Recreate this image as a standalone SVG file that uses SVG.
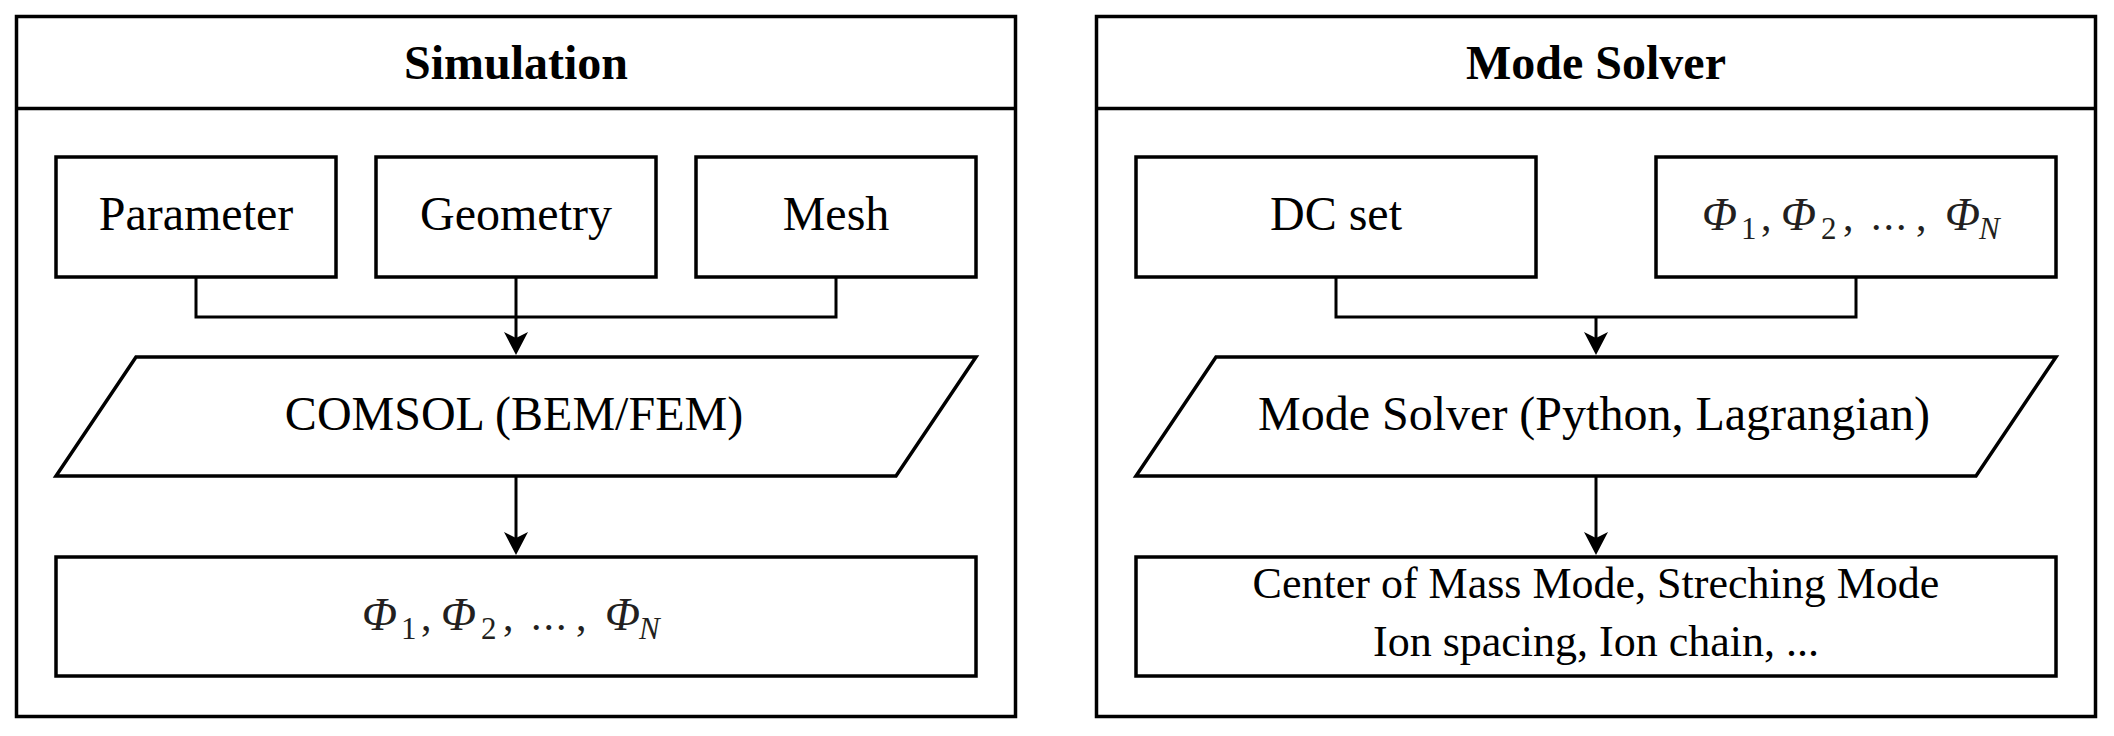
<svg xmlns="http://www.w3.org/2000/svg" width="2114" height="736" viewBox="0 0 2114 736">
<defs>
<style>
.panel{fill:#fff;stroke:#000;stroke-width:3.5}
.box{fill:#fff;stroke:#000;stroke-width:3.5}
.conn{fill:none;stroke:#000;stroke-width:3}
.t{font-family:"Liberation Serif","Times New Roman",serif;font-size:48px;fill:#000;text-anchor:middle}
.s{font-size:44px}
.title{font-weight:bold}
.phi{font-family:"Liberation Serif","Times New Roman",serif;fill:#231f20}
.big{font-size:46px;font-style:italic}
.sub{font-size:31px}
.subi{font-size:31px;font-style:italic}
.pn{font-size:42px}
</style>
<marker id="arr" viewBox="-15 -13 27 26" markerWidth="27" markerHeight="26" refX="0" refY="0" markerUnits="userSpaceOnUse" orient="auto">
<path d="M10,0 L-13,-12 L-7,0 L-13,12 Z" fill="#000"/>
</marker>
</defs>
<rect width="2114" height="736" fill="#fff"/>

<g id="panel-simulation">
<rect class="panel" x="16.5" y="16.5" width="999" height="700"/>
<line class="panel" x1="16.5" y1="108.5" x2="1015.5" y2="108.5"/>
<text class="t title" x="516" y="79">Simulation</text>
</g>

<g id="panel-modesolver">
<rect class="panel" x="1096.5" y="16.5" width="999" height="700"/>
<line class="panel" x1="1096.5" y1="108.5" x2="2095.5" y2="108.5"/>
<text class="t title" x="1596" y="79">Mode Solver</text>
</g>

<g id="connectors">
<path class="conn" d="M196,277 V317 H836 V277"/>
<path class="conn" d="M516,277 V345" marker-end="url(#arr)"/>
<path class="conn" d="M516,476 V545" marker-end="url(#arr)"/>
<path class="conn" d="M1336,277 V317 H1856 V277"/>
<path class="conn" d="M1596,317 V345" marker-end="url(#arr)"/>
<path class="conn" d="M1596,476 V545" marker-end="url(#arr)"/>
</g>

<g id="parameter">
<rect class="box" x="56" y="157" width="280" height="120"/>
<text class="t" x="196" y="230">Parameter</text>
</g>
<g id="geometry">
<rect class="box" x="376" y="157" width="280" height="120"/>
<text class="t" x="516" y="230">Geometry</text>
</g>
<g id="mesh">
<rect class="box" x="696" y="157" width="280" height="120"/>
<text class="t" x="836" y="230">Mesh</text>
</g>
<g id="comsol">
<polygon class="box" points="136,357 976,357 896,476 56,476"/>
<text class="t" x="514" y="430">COMSOL (BEM/FEM)</text>
</g>
<g id="phi-result">
<rect class="box" x="56" y="557" width="920" height="119"/>
<text class="phi"><tspan class="big" x="362" y="630">Φ</tspan><tspan class="sub" x="401" y="639">1</tspan><tspan class="pn" x="421" y="630">,</tspan><tspan class="big" x="441" y="630">Φ</tspan><tspan class="sub" x="481" y="639">2</tspan><tspan class="pn" x="503" y="630">,</tspan><tspan class="pn" x="531" y="630" letter-spacing="2">...</tspan><tspan class="pn" x="576" y="630">,</tspan><tspan class="big" x="605" y="630">Φ</tspan><tspan class="subi" x="639" y="639">N</tspan></text>
</g>

<g id="dcset">
<rect class="box" x="1136" y="157" width="400" height="120"/>
<text class="t" x="1336" y="230">DC set</text>
</g>
<g id="phi-input">
<rect class="box" x="1656" y="157" width="400" height="120"/>
<text class="phi"><tspan class="big" x="1702" y="230">Φ</tspan><tspan class="sub" x="1741" y="239">1</tspan><tspan class="pn" x="1761" y="230">,</tspan><tspan class="big" x="1781" y="230">Φ</tspan><tspan class="sub" x="1821" y="239">2</tspan><tspan class="pn" x="1843" y="230">,</tspan><tspan class="pn" x="1871" y="230" letter-spacing="2">...</tspan><tspan class="pn" x="1916" y="230">,</tspan><tspan class="big" x="1945" y="230">Φ</tspan><tspan class="subi" x="1979" y="239">N</tspan></text>
</g>
<g id="modesolver">
<polygon class="box" points="1216,357 2056,357 1976,476 1136,476"/>
<text class="t" x="1594" y="430">Mode Solver (Python, Lagrangian)</text>
</g>
<g id="modes-result">
<rect class="box" x="1136" y="557" width="920" height="119"/>
<text class="t s" x="1596" y="598">Center of Mass Mode, Streching Mode</text>
<text class="t s" x="1596" y="656">Ion spacing, Ion chain, ...</text>
</g>
</svg>
